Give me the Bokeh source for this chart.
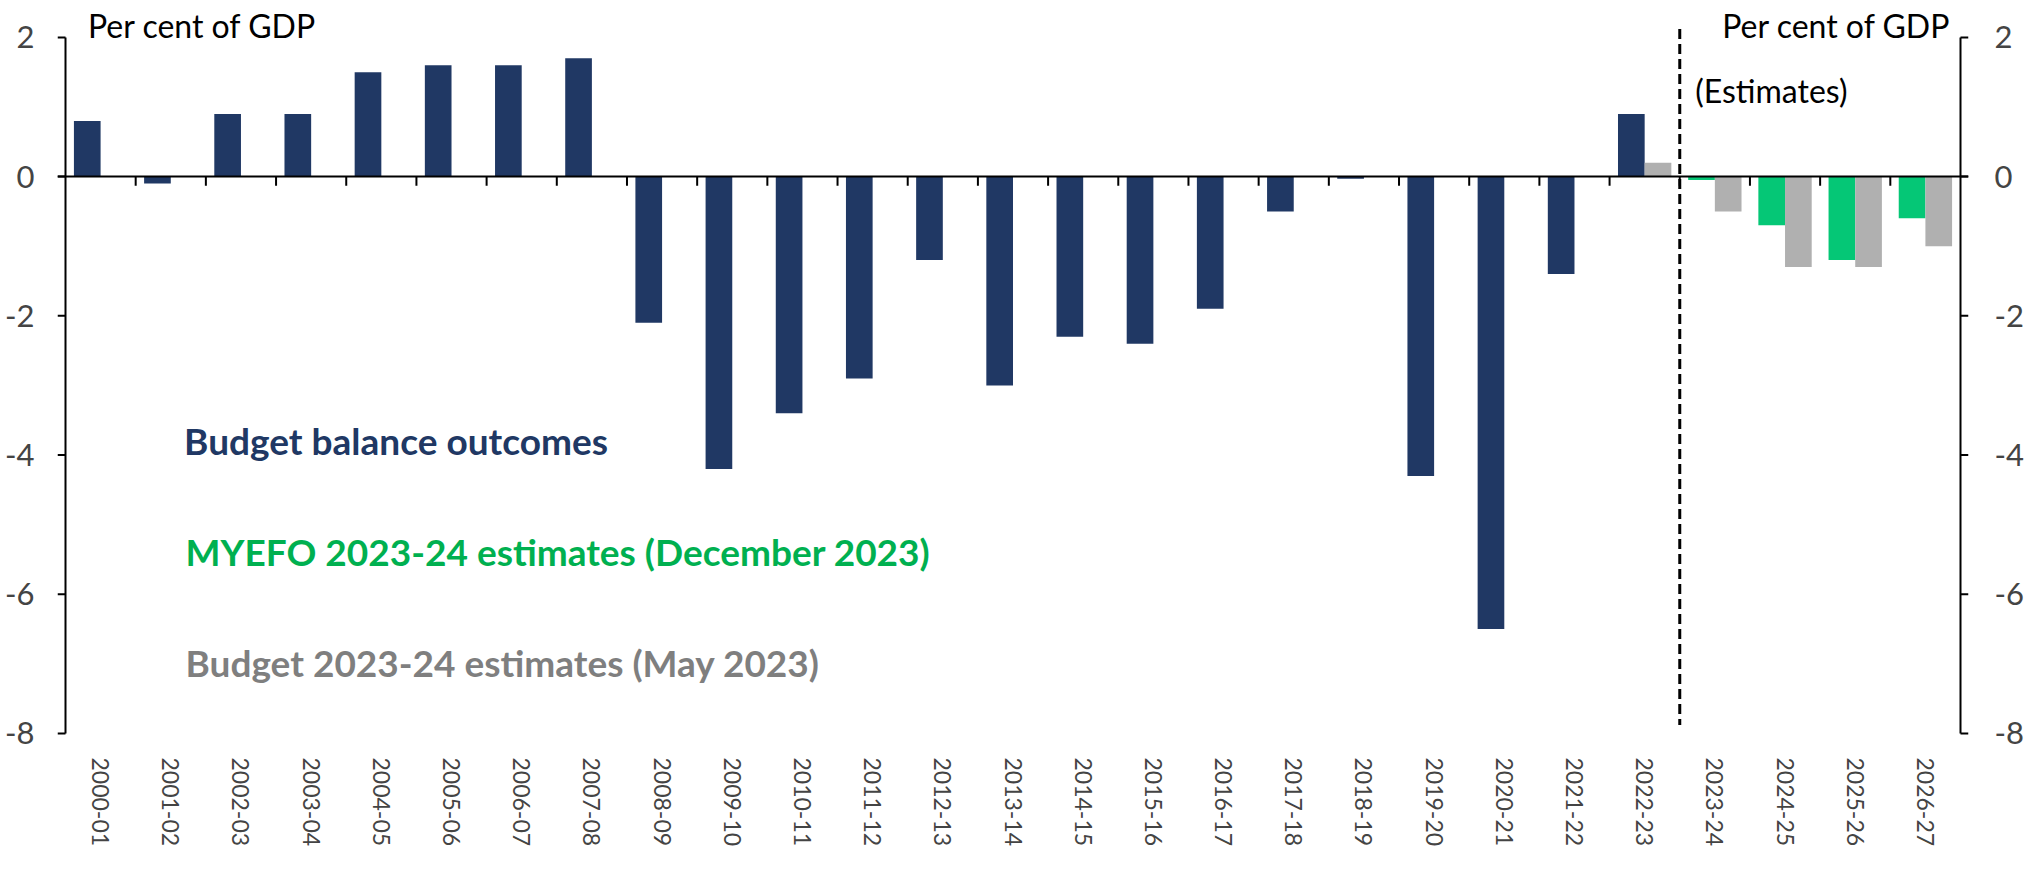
from bokeh.plotting import figure
from bokeh.models import Range1d, LinearAxis, FixedTicker, ColumnDataSource
from bokeh.core.properties import value
from bokeh.transform import dodge
from bokeh.embed import file_html
from bokeh.resources import INLINE

# ---------------- data ----------------
years = ["2000-01", "2001-02", "2002-03", "2003-04", "2004-05", "2005-06", "2006-07",
         "2007-08", "2008-09", "2009-10", "2010-11", "2011-12", "2012-13", "2013-14",
         "2014-15", "2015-16", "2016-17", "2017-18", "2018-19", "2019-20", "2020-21",
         "2021-22", "2022-23", "2023-24", "2024-25", "2025-26", "2026-27"]
# Budget balance outcomes 2000-01 .. 2022-23
outcomes = [0.8, -0.1, 0.9, 0.9, 1.5, 1.6, 1.6, 1.7, -2.1, -4.2, -3.4, -2.9, -1.2,
            -3.0, -2.3, -2.4, -1.9, -0.5, -0.03, -4.3, -6.5, -1.4, 0.9]
# MYEFO 2023-24 estimates 2023-24 .. 2026-27
myefo = [-0.05, -0.7, -1.2, -0.6]
# Budget 2023-24 estimates 2022-23 .. 2026-27
budget_est = [0.2, -0.5, -1.3, -1.3, -1.0]
y_ticks = [-8, -6, -4, -2, 0, 2]

NAVY = "#203864"
GREEN_BAR = "#05C776"
GREY_BAR = "#B0B0B0"
GREEN_TXT = "#00B050"
GREY_TXT = "#7F7F7F"
FONT = "Lato"

n = len(years)
x_left, x_right = -0.5, n - 0.5          # category area (axis lines)
tick_dx = 0.114                            # outward tick length (~8px) in x units
tick_dy = 0.13                             # boundary tick length (~9px) in y units
y_lo, y_hi = min(y_ticks), max(y_ticks)

p = figure(width=2028, height=853, output_backend="svg", toolbar_location=None,
           x_range=Range1d(x_left - tick_dx, x_right + tick_dx), y_range=Range1d(y_lo - 0.03, 2.53),
           x_axis_type=None, y_axis_type=None,
           min_border_left=57, min_border_right=60, min_border_top=0, min_border_bottom=118,
           outline_line_color=None, background_fill_color="white", border_fill_color="white")
p.xgrid.visible = False
p.ygrid.visible = False

# ---------------- bars ----------------
idx_out = list(range(len(outcomes)))
idx_myefo = list(range(len(outcomes), len(outcomes) + len(myefo)))
idx_budget = list(range(n - len(budget_est), n))

src_out = ColumnDataSource(dict(x=idx_out, top=outcomes))
src_myefo = ColumnDataSource(dict(x=idx_myefo, top=myefo))
src_budget = ColumnDataSource(dict(x=idx_budget, top=budget_est))

bw = 0.38
p.vbar(x=dodge("x", -bw / 2), top="top", bottom=0, width=bw, source=src_out,
       fill_color=NAVY, line_color=None)
p.vbar(x=dodge("x", -bw / 2), top="top", bottom=0, width=bw, source=src_myefo,
       fill_color=GREEN_BAR, line_color=None)
p.vbar(x=dodge("x", bw / 2), top="top", bottom=0, width=bw, source=src_budget,
       fill_color=GREY_BAR, line_color=None)

# estimates divider
b = len(outcomes) - 0.5
p.segment(x0=[b], y0=[2.12], x1=[b], y1=[-7.88], line_color="black",
          line_width=3, line_dash="10 5")

# ---------------- axis rules and ticks (drawn as glyphs) ----------------
AX = dict(line_color="black", line_width=2)
# vertical axis lines
p.segment(x0=[x_left, x_right], y0=[y_lo, y_lo], x1=[x_left, x_right], y1=[y_hi, y_hi], **AX)
# outward y ticks on both sides
p.segment(x0=[x_left - tick_dx] * len(y_ticks), y0=y_ticks, x1=[x_left] * len(y_ticks), y1=y_ticks, **AX)
p.segment(x0=[x_right] * len(y_ticks), y0=y_ticks, x1=[x_right + tick_dx] * len(y_ticks), y1=y_ticks, **AX)
# zero line
p.segment(x0=[x_left - tick_dx], y0=[0], x1=[x_right + tick_dx], y1=[0], **AX)
# category boundary ticks on the zero line
bounds_x = [i + 0.5 for i in range(n - 1)]
p.segment(x0=bounds_x, y0=[0] * len(bounds_x), x1=bounds_x, y1=[-tick_dy] * len(bounds_x), **AX)

# ---------------- text (as glyphs) ----------------
def lab(x, y, text, color="black", size="32px", bold=False, align="left"):
    p.text(x=[x], y=[y], text=[text], text_color=color, text_font=value(FONT),
           text_font_size=value(size), text_font_style=value("bold" if bold else "normal"),
           text_align=value(align), text_baseline=value("alphabetic"))

lab(-0.18, 2.17, "Per cent of GDP")
lab(26.36, 2.17, "Per cent of GDP", align="right")
lab(22.72, 1.24, "(Estimates)")
lab(1.19, -3.79, "Budget balance outcomes", color=NAVY, size="37px", bold=True)
lab(1.21, -5.38, "MYEFO 2023-24 estimates (December 2023)", color=GREEN_TXT, size="37px", bold=True)
lab(1.21, -6.98, "Budget 2023-24 estimates (May 2023)", color=GREY_TXT, size="37px", bold=True)

# ---------------- axes (labels only) ----------------
def y_axis(standoff):
    return LinearAxis(ticker=FixedTicker(ticks=y_ticks),
                      major_label_overrides={t: str(t) for t in y_ticks},
                      axis_line_color=None, major_tick_line_color=None,
                      major_tick_in=0, major_tick_out=0, minor_tick_line_color=None,
                      major_label_standoff=standoff, major_label_text_font=FONT,
                      major_label_text_font_size="31px")

p.add_layout(y_axis(23), "left")
p.add_layout(y_axis(26), "right")

cat_axis = LinearAxis(ticker=FixedTicker(ticks=list(range(n))),
                      major_label_overrides={i: years[i] for i in range(n)},
                      major_label_orientation="vertical",
                      axis_line_color=None, major_tick_line_color=None,
                      major_tick_in=0, major_tick_out=0, minor_tick_line_color=None,
                      major_label_standoff=22, major_label_text_font=FONT,
                      major_label_text_font_size="23px")
p.add_layout(cat_axis, "below")

open("out.html", "w").write(file_html(p, INLINE))
